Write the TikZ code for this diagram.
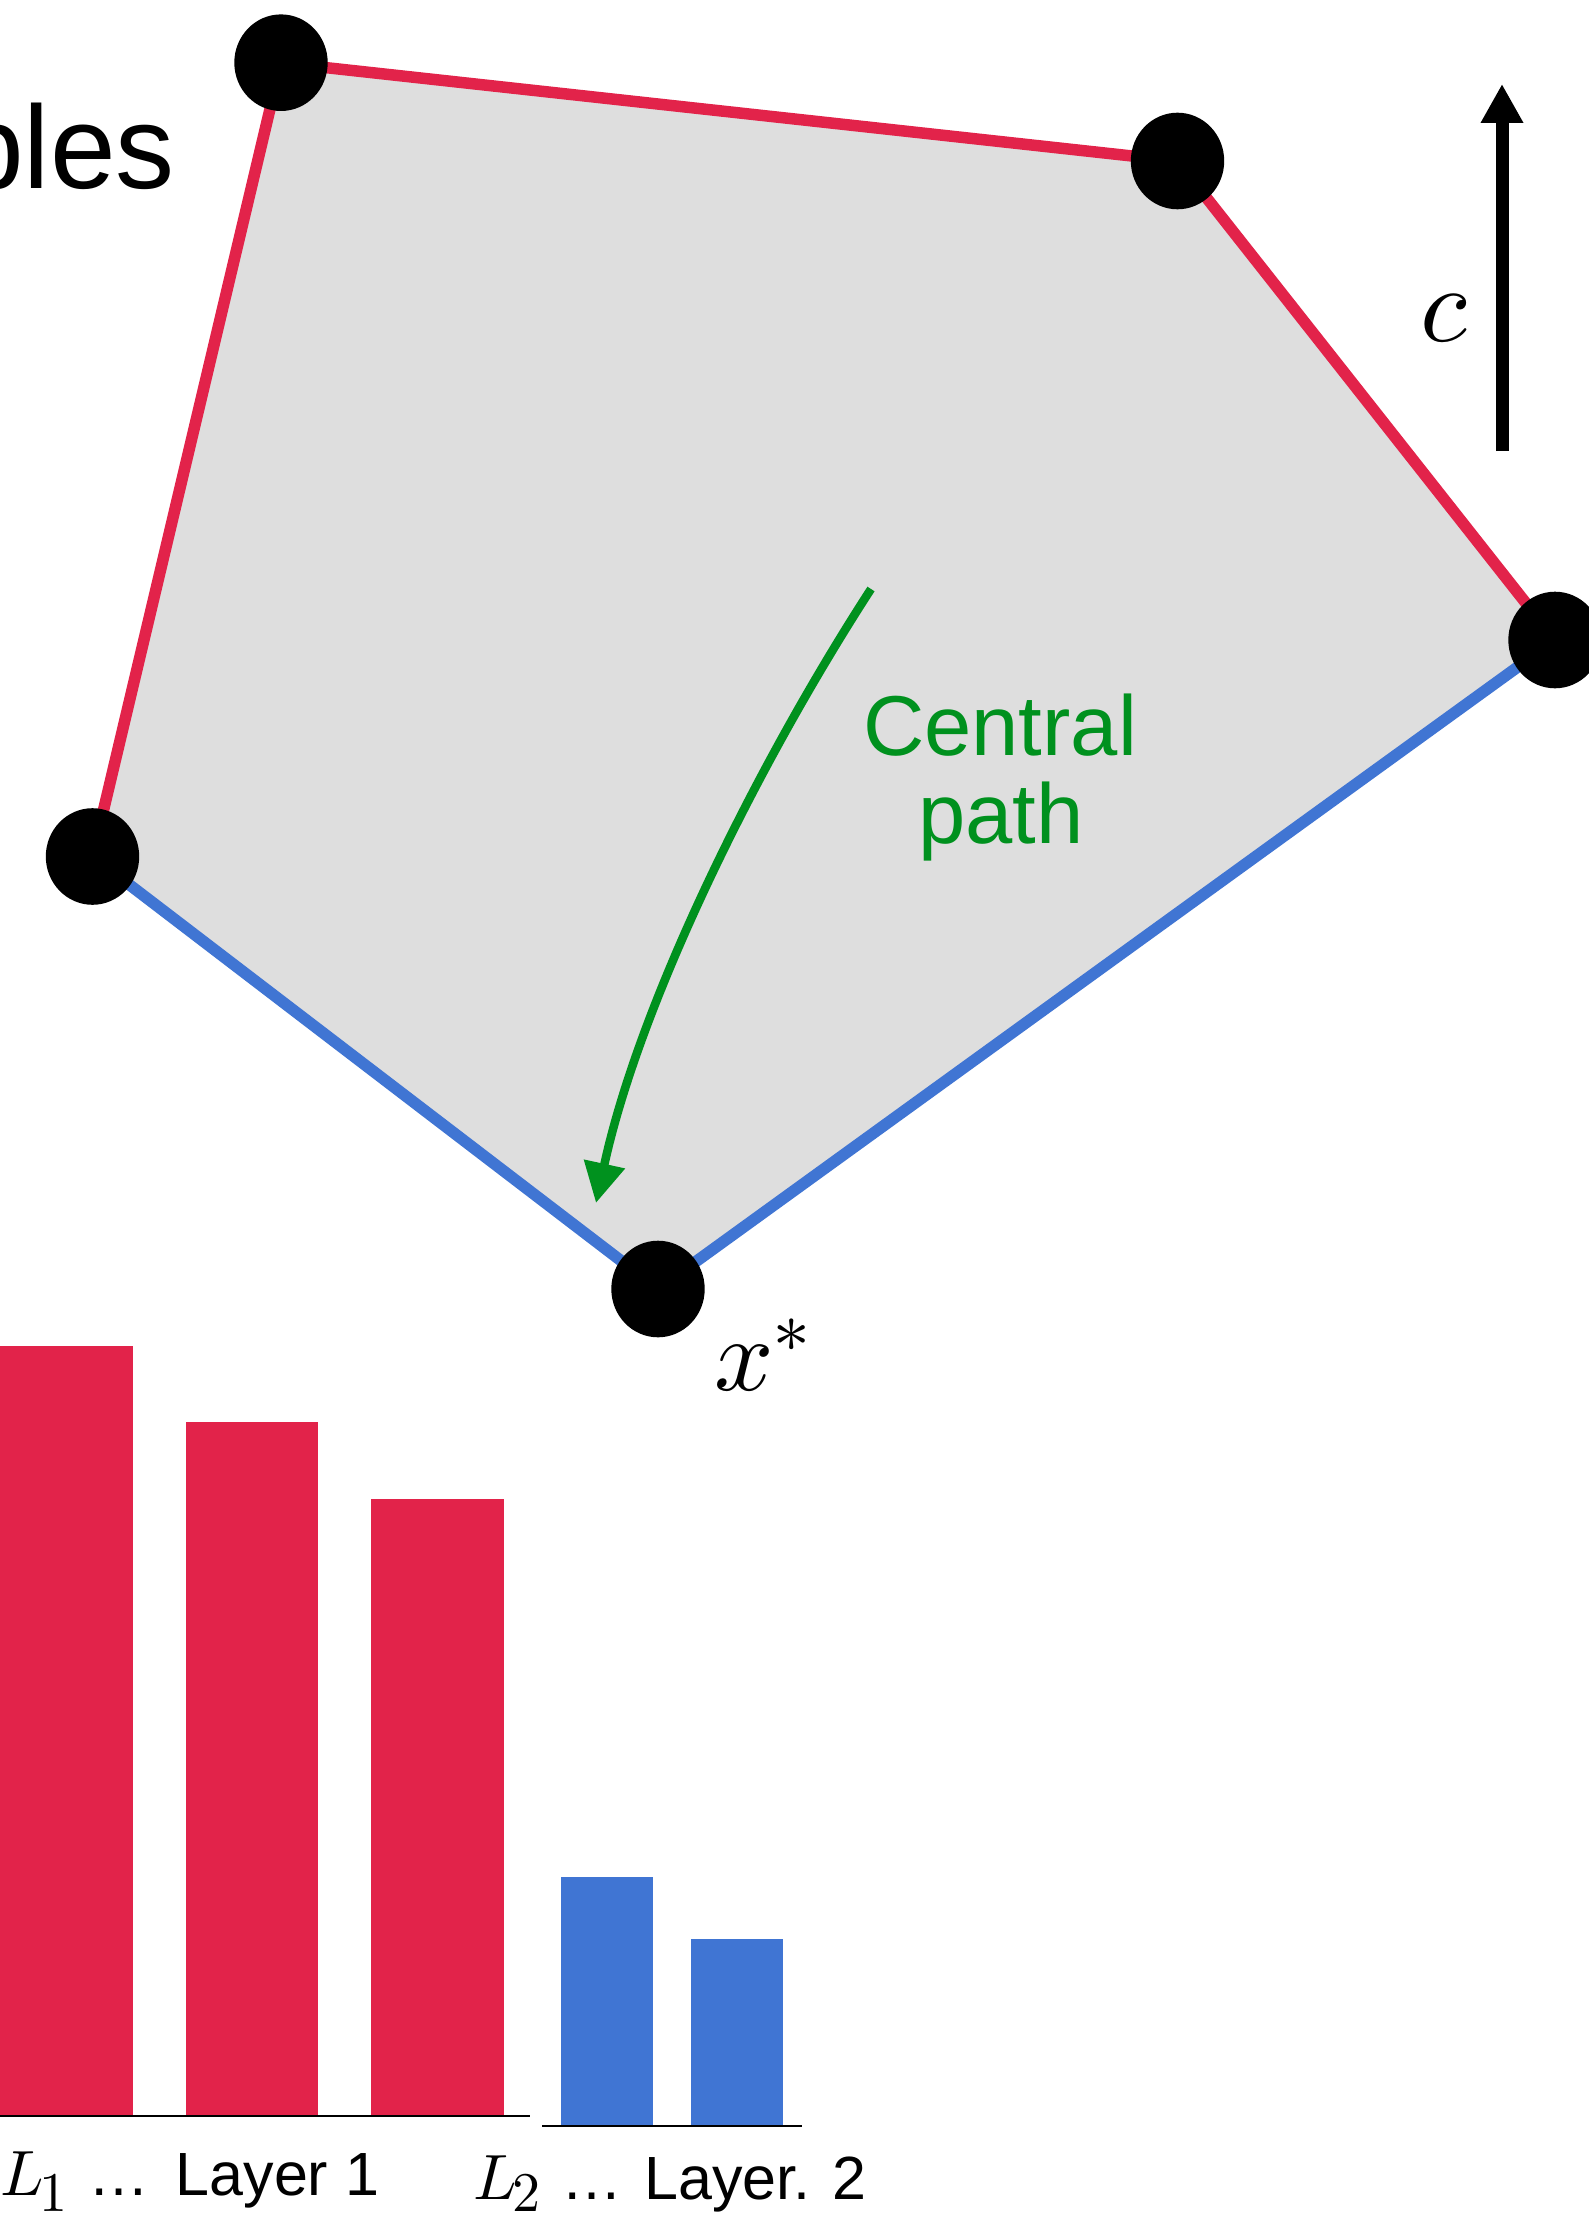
\documentclass[tikz,border=0pt]{standalone}
\usepackage{fontspec}
\usepackage{unicode-math}
\setmainfont{Liberation Sans}
\usetikzlibrary{arrows.meta,shapes.geometric}
\definecolor{polyred}{HTML}{E2234A}
\definecolor{polyblue}{HTML}{4075D3}
\definecolor{polygray}{HTML}{DEDEDE}
\definecolor{pathgreen}{HTML}{00911E}
\newcommand\lowsub[2]{\hspace{-4pt}\raisebox{-#1pt}{\fontsize{56}{56}\selectfont$#2$}}
\begin{document}
\begin{tikzpicture}[x=1pt,y=-1pt,
  vtx/.style={ellipse, fill=black, inner sep=0pt, minimum width=93.4pt, minimum height=96.6pt},
  redge/.style={draw=polyred, line width=11.5pt},
  bedge/.style={draw=polyblue, line width=11.5pt},
  redbar/.style={fill=polyred},
  bluebar/.style={fill=polyblue},
  axisline/.style={draw=black, line width=2.5pt},
  lbl/.style={inner sep=0pt, anchor=base west},
  greentext/.style={inner sep=0pt, anchor=base, text=pathgreen, font=\fontsize{85}{88}\selectfont}]
\clip (0,0) rectangle (1589,2215);
\fill[white] (0,0) rectangle (1589,2215);
% vertices
\coordinate (A) at (281,62.7);
\coordinate (B) at (1177.5,161);
\coordinate (C) at (1555,640);
\coordinate (D) at (92.5,856.5);
\coordinate (E) at (658,1289);
% feasible region
\fill[polygray] (A) -- (B) -- (C) -- (E) -- (D) -- cycle;
\draw[redge] (D) -- (A);
\draw[redge] (A) -- (B);
\draw[redge] (B) -- (C);
\draw[bedge] (C) -- (E);
\draw[bedge] (E) -- (D);
\node[vtx] (vA) at (A) {};
\node[vtx] (vB) at (B) {};
\node[vtx] (vC) at (C) {};
\node[vtx] (vD) at (D) {};
\node[vtx] (vE) at (E) {};
% central path
\coordinate (gs) at (871,589);
\coordinate (ge) at (596,1203);
\draw[pathgreen, line width=8.5pt, -{Triangle[length=40pt,width=40pt]}] (gs) .. controls (760,760) and (640,1000) .. (ge);
\node[greentext] (cp1) at (1000,755) {Central};
\node[greentext] (cp2) at (1001,843) {path};
% objective direction
\coordinate (cb) at (1502,451);
\coordinate (ct) at (1502,84);
\draw[line width=13pt, -{Triangle[length=39pt,width=40pt]}] (cb) -- (ct);
\node[inner sep=0pt, font=\fontsize{108}{110}\selectfont] (clab) at (1445,318) {$c$};
\node[lbl, font=\fontsize{104}{106}\selectfont] (xlab) at (714,1390) {$x^*$};
% partial title
\node[inner sep=0pt, anchor=base east, font=\fontsize{118}{120}\selectfont] (bles) at (175,189) {bles};
% bars
\fill[redbar] (0,1346) rectangle (133,2115);
\fill[redbar] (186,1422) rectangle (318,2115);
\fill[redbar] (371,1499) rectangle (504,2115);
\draw[axisline] (0,2116) -- (530,2116);
\fill[bluebar] (561,1877) rectangle (653,2125);
\fill[bluebar] (691,1939) rectangle (783,2125);
\draw[axisline] (542,2126) -- (802,2126);
% labels
\node[lbl, font=\fontsize{64}{64}\selectfont] (L1) at (0,2195) {$L$\lowsub{16}{1}};
\node[lbl, font=\fontsize{61}{61}\selectfont] (lay1) at (88,2195) {…\hspace{26.5pt}Layer 1};
\node[lbl, font=\fontsize{64}{64}\selectfont] (L2) at (473,2199) {$L$\lowsub{12}{2}};
\node[lbl, font=\fontsize{61}{61}\selectfont] (lay2) at (561,2199) {…\hspace{22pt}Layer. 2};
\end{tikzpicture}
\end{document}
